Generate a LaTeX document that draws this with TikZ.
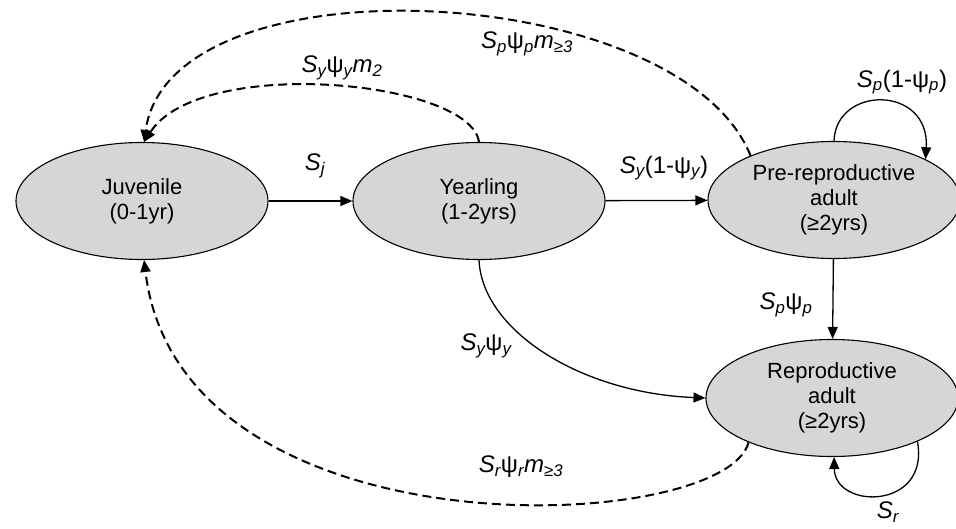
\documentclass[tikz,border=0pt]{standalone}
\usepackage{fontspec}
\setmainfont{Liberation Sans}
\usepackage{tikz}
\usetikzlibrary{shapes.geometric,arrows.meta}
\definecolor{stagegray}{RGB}{214,214,214}
\newcommand{\lsub}[1]{\textsubscript{\itshape #1}}
\tikzset{
  stage/.style={ellipse, draw, line width=1.1pt, fill=stagegray, inner sep=0pt,
    minimum width=252pt, minimum height=117pt, align=center,
    font=\fontsize{22}{25}\selectfont},
  trans/.style={-{Triangle[length=12pt,width=10pt]}, line width=1.3pt},
  fec/.style={trans, dash pattern=on 9pt off 5pt, line width=2pt},
  rate/.style={font=\fontsize{24}{28}\selectfont}
}

\begin{document}
\begin{tikzpicture}[x=1pt,y=-1pt]
\useasboundingbox (0,0) rectangle (956,529);
% stages
\node[stage] (juv) at (142,201) {Juvenile\\(0-1yr)};
\node[stage] (yr) at (479,201) {Yearling\\(1-2yrs)};
\node[stage] (pre) at (834,200) {Pre-reproductive\\adult\\(≥2yrs)};
\node[stage] (rep) at (832,398) {Reproductive\\adult\\(≥2yrs)};
% survival
\draw[trans] (juv) -- (yr);
\draw[trans] (yr) -- (pre);
\draw[trans] (pre) -- (rep);
\draw[trans] (yr.south) .. controls (482,330) and (580,393) .. (rep.west);
\draw[trans] (pre.north) .. controls (836,85) and (930,85) .. (pre.24);
\draw[trans] (rep.-27) .. controls (930,510) and (835,510) .. (rep.-88);
% fecundity
\draw[fec] (yr.north) .. controls (470,80) and (200,55) .. (juv.88);
\draw[fec] (pre.152) .. controls (680,-20) and (170,-45) .. (juv.88);
\draw[fec] (rep.208) .. controls (725,535) and (180,560) .. (juv.-88);
% rates
\node[rate] (rj) at (315,166) {\textit{S}\lsub{j}};
\node[rate] (ryp) at (664,168) {\textit{S}\lsub{y}(1-ψ\lsub{y})};
\node[rate] (rpr) at (786,305) {\textit{S}\lsub{p}ψ\lsub{p}};
\node[rate] (ryr) at (486,346) {\textit{S}\lsub{y}ψ\lsub{y}};
\node[rate] (rpp) at (902,82) {\textit{S}\lsub{p}(1-ψ\lsub{p})};
\node[rate] (rrr) at (888,512) {\textit{S}\lsub{r}};
\node[rate] (fy) at (342,68) {\textit{S}\lsub{y}ψ\lsub{y}\textit{m}\lsub{2}};
\node[rate] (fp) at (527,44) {\textit{S}\lsub{p}ψ\lsub{p}\textit{m}\lsub{≥3}};
\node[rate] (fr) at (521,467) {\textit{S}\lsub{r}ψ\lsub{r}\textit{m}\lsub{≥3}};
\end{tikzpicture}
\end{document}
